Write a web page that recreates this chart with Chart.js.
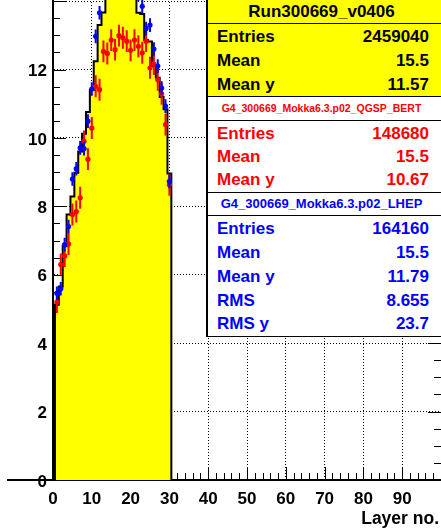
<!DOCTYPE html>
<html>
<head>
<meta charset="utf-8">
<script src="https://cdn.jsdelivr.net/npm/chart.js@4/dist/chart.umd.min.js"></script>
<style>
body { margin:0; width:441px; height:528px; overflow:hidden; position:relative; background:#fff;
       font-family:'Liberation Sans', Arial, sans-serif; font-weight:bold; }
#wrap { position:absolute; left:0; top:-28px; }
.box { position:absolute; left:206px; width:238px; box-sizing:border-box; border:1px solid #000; border-left-width:2px; }
.title { text-align:center; padding-right:8px; white-space:nowrap; }
.row { position:absolute; left:9px; right:14px; height:20px; line-height:20px; font-size:17px; }
.row b { position:absolute; right:0; top:0; }
#xlabel { position:absolute; right:2px; top:508px; line-height:20px; font-size:17.5px; }
</style>
</head>
<body>
<div id="wrap"><canvas id="myChart" width="445" height="556"></canvas></div>

<div class="box" style="top:-1px;height:98px;background:#ffff00;color:#000">
  <div class="title" style="height:23px;line-height:23px;font-size:17px;border-bottom:1px solid #000">Run300669_v0406</div>
  <div class="row" style="top:27px">Entries<b>2459040</b></div>
  <div class="row" style="top:51px">Mean<b>15.5</b></div>
  <div class="row" style="top:75px">Mean y<b>11.57</b></div>
</div>
<div class="box" style="top:96px;height:25px;background:#fff;color:#ff0000">
  <div class="title" style="line-height:23px;font-size:10.5px">G4_300669_Mokka6.3.p02_QGSP_BERT</div>
</div>
<div class="box" style="top:120px;height:73px;background:#fff;color:#ff0000">
  <div class="row" style="top:3px">Entries<b>148680</b></div>
  <div class="row" style="top:26px">Mean<b>15.5</b></div>
  <div class="row" style="top:49px">Mean y<b>10.67</b></div>
</div>
<div class="box" style="top:192px;height:24px;background:#fff;color:#0000ff">
  <div class="title" style="line-height:22px;font-size:13px">G4_300669_Mokka6.3.p02_LHEP</div>
</div>
<div class="box" style="top:215px;height:122px;background:#fff;color:#0000ff">
  <div class="row" style="top:3px">Entries<b>164160</b></div>
  <div class="row" style="top:27px">Mean<b>15.5</b></div>
  <div class="row" style="top:51px">Mean y<b>11.79</b></div>
  <div class="row" style="top:75px">RMS<b>8.655</b></div>
  <div class="row" style="top:98px">RMS y<b>23.7</b></div>
</div>
<div id="xlabel">Layer no.</div>

<script>
var layers = [1, 2, 3, 4, 5, 6, 7, 8, 9, 10, 11, 12, 13, 14, 15, 16, 17, 18, 19, 20,
              21, 22, 23, 24, 25, 26, 27, 28, 29, 30];
// Run300669_v0406 (yellow histogram)
var runData = [5.12, 5.66, 6.83, 7.76, 8.29, 8.98, 9.6, 10.12, 10.76, 11.4, 12.24, 13.3, 13.67, 14.4, 14.9,
               15.2, 15.3, 15.2, 15.0, 14.7, 14.2, 13.66, 13.62, 12.86, 12.82, 12.1, 11.76, 11.2, 10.84, 8.96];
// G4 ... QGSP_BERT (red)
var qgspBert = [5.2, 6.3, 6.55, 6.9, 7.76, 7.85, 8.25, 9.9, 9.38, 10.29, 11.51, 11.41, 12.53, 12.47, 12.86,
                12.58, 12.99, 12.93, 12.83, 12.56, 12.86, 12.68, 12.49, 12.83, 12.05, 12.16, 11.7, 11.29, 10.39, 8.63];
// G4 ... LHEP (blue)
var lhep = [5.46, 5.59, 6.88, 7.41, 8.8, 9.1, 9.71, 9.69, 10.49, 11.43, 12.97, 13.66, 14.3, 14.8, 15.1,
            15.3, 15.3, 15.2, 15.0, 14.7, 14.3, 14.2, 13.85, 13.2, 13.3, 12.6, 12.1, 11.46, 10.93, 8.73];
var qgspErr = 0.32;
var lhepErr = 0.2;
var xTickLabels = [0, 10, 20, 30, 40, 50, 60, 70, 80, 90];
var yTickLabels = [0, 2, 4, 6, 8, 10, 12];

Chart.defaults.font.family = "'Liberation Sans', Arial, sans-serif";

// step outline of the histogram, bins are one layer wide
var outline = [{x: layers[0] - 0.5, y: 0}];
layers.forEach(function (l, i) {
    outline.push({x: l - 0.5, y: runData[i]}, {x: l + 0.5, y: runData[i]});
});
outline.push({x: layers[layers.length - 1] + 0.5, y: 0});

function errorBars(vals, err) {
    var pts = [];
    layers.forEach(function (l, i) {
        pts.push({x: l, y: vals[i] - err}, {x: l, y: vals[i] + err}, {x: l, y: null});
        pts.push({x: l - 0.5, y: vals[i]}, {x: l + 0.5, y: vals[i]}, {x: l, y: null});
    });
    return pts;
}
function points(vals) {
    return layers.map(function (l, i) { return {x: l, y: vals[i]}; });
}

// ROOT style ticks inside the frame
var rootTicks = {
    id: 'rootTicks',
    beforeDatasetsDraw: function (chart) {
        var ctx = chart.ctx, a = chart.chartArea, x = chart.scales.x, y = chart.scales.y;
        ctx.save();
        ctx.strokeStyle = '#000';
        ctx.lineWidth = 1;
        ctx.beginPath();
        for (var v = 0; v <= 100; v += 2) {
            var px = Math.round(x.getPixelForValue(v)) + 0.5;
            var len = v % 10 === 0 ? 13 : 7;
            ctx.moveTo(px, a.bottom);
            ctx.lineTo(px, a.bottom - len);
        }
        for (var w = 0; w <= 14.5; w += 0.5) {
            var py = Math.round(y.getPixelForValue(w)) + 0.5;
            var l2 = w % 2 === 0 ? 13 : 7;
            ctx.moveTo(a.left, py); ctx.lineTo(a.left + l2, py);
            ctx.moveTo(a.right, py); ctx.lineTo(a.right - l2, py);
        }
        ctx.stroke();
        ctx.lineWidth = 2;
        ctx.beginPath();
        ctx.moveTo(7, a.bottom);
        ctx.lineTo(a.left, a.bottom);
        ctx.stroke();
        ctx.restore();
    }
};

var tickFont = {size: 17, weight: 'bold'};

var ctx = document.getElementById('myChart').getContext('2d');
var myChart = new Chart(ctx, {
    type: 'scatter',
    data: {
        datasets: [{
            type: 'line',
            data: outline,
            borderColor: '#000',
            borderWidth: 2,
            backgroundColor: '#ffff00',
            fill: 'origin',
            pointRadius: 0,
            order: 5
        }, {
            type: 'line',
            data: errorBars(qgspBert, qgspErr),
            borderColor: '#ff0000',
            borderWidth: 2,
            pointRadius: 0,
            spanGaps: false,
            fill: false,
            order: 4
        }, {
            data: points(qgspBert),
            backgroundColor: '#ff0000',
            borderWidth: 0,
            pointRadius: 2.6,
            order: 3
        }, {
            type: 'line',
            data: errorBars(lhep, lhepErr),
            borderColor: '#0000ff',
            borderWidth: 2,
            pointRadius: 0,
            spanGaps: false,
            fill: false,
            order: 2
        }, {
            data: points(lhep),
            backgroundColor: '#0000ff',
            borderWidth: 0,
            pointRadius: 2.6,
            order: 1
        }]
    },
    options: {
        responsive: false,
        animation: false,
        devicePixelRatio: 1,
        layout: {padding: {top: 12, right: 2, left: 0, bottom: 0}},
        plugins: {legend: {display: false}, tooltip: {enabled: false}},
        scales: {
            x: {
                type: 'linear',
                min: 0,
                max: 100,
                afterFit: function (s) { s.height = 48; s.paddingLeft = 0; s.paddingRight = 0; },
                ticks: {
                    stepSize: 10,
                    autoSkip: false,
                    maxRotation: 0,
                    padding: 9,
                    color: '#000',
                    font: tickFont,
                    callback: function (v) { return xTickLabels.indexOf(v) >= 0 ? v : ''; }
                },
                grid: {color: '#000', lineWidth: 1, drawTicks: false},
                border: {display: true, color: '#000', width: 2, dash: [1, 2]}
            },
            y: {
                min: 0,
                max: 14.5,
                afterFit: function (s) { s.width = 53; s.paddingTop = 0; s.paddingBottom = 0; },
                ticks: {
                    stepSize: 2,
                    includeBounds: false,
                    padding: 6,
                    labelOffset: 2,
                    color: '#000',
                    font: tickFont,
                    callback: function (v) { return yTickLabels.indexOf(v) >= 0 ? v : ''; }
                },
                grid: {color: '#000', lineWidth: 1, drawTicks: false},
                border: {display: true, color: '#000', width: 2, dash: [1, 2]}
            }
        }
    },
    plugins: [rootTicks]
});
</script>
</body>
</html>
